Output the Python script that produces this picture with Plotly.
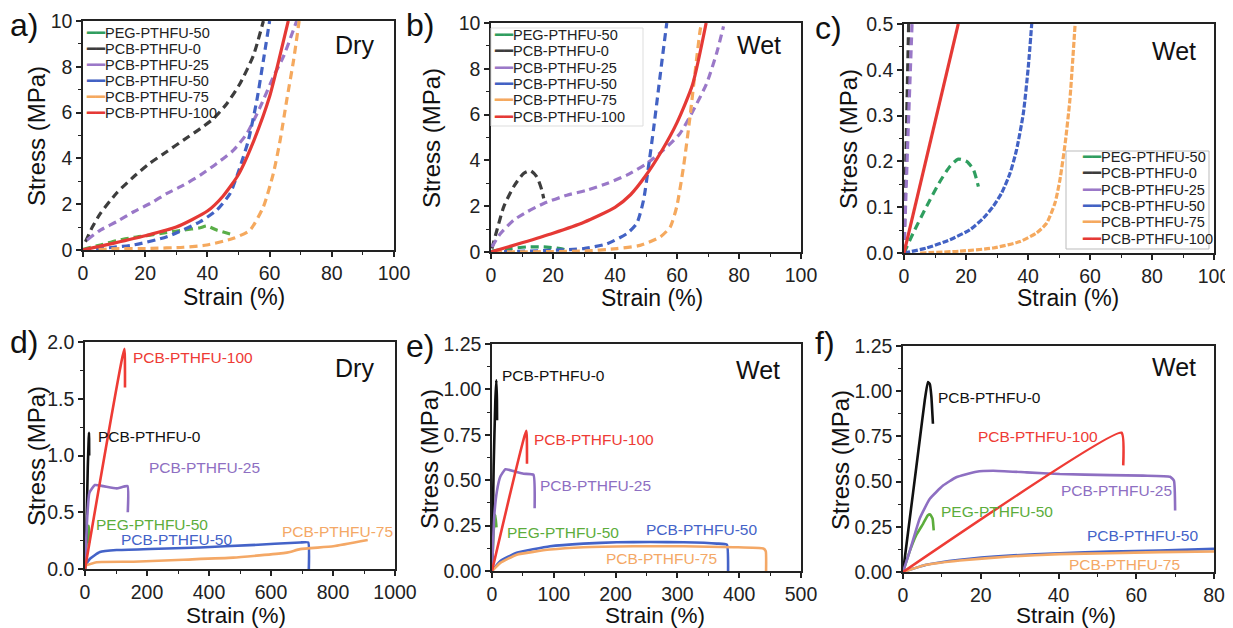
import plotly.graph_objects as go

# ---------------- shared labels ----------------
SERIES_NAMES = ["PEG-PTHFU-50", "PCB-PTHFU-0", "PCB-PTHFU-25",
                "PCB-PTHFU-50", "PCB-PTHFU-75", "PCB-PTHFU-100"]
X_TITLE = "Strain (%)"
Y_TITLE = "Stress (MPa)"

# ---------------- panel a (dry, small strain) ----------------
A_PEG50_X = [0, 5.6, 10.9, 16.3, 21.6, 27, 32.3, 37.7, 39.8, 43, 47.3]
A_PEG50_Y = [0.03, 0.22, 0.41, 0.55, 0.65, 0.77, 0.87, 0.97, 1.05, 0.87, 0.7]
A_PCB0_X = [0.8, 3, 5.6, 10.9, 16.3, 21.6, 27, 32.3, 37.7, 42, 46.3, 50.5, 54.8, 58]
A_PCB0_Y = [0.36, 1.0, 1.6, 2.5, 3.2, 3.8, 4.3, 4.8, 5.3, 5.74, 6.4, 7.27, 8.5, 10]
A_PCB25_X = [1.3, 5.6, 10.9, 16.3, 21.6, 27, 32.3, 37.7, 43, 48.4, 52.7, 57, 61.2, 64.4, 68.7]
A_PCB25_Y = [0.44, 0.87, 1.24, 1.67, 2.03, 2.47, 2.83, 3.27, 3.78, 4.36, 5.09, 6.25, 7.56, 8.43, 10]
A_PCB50_X = [0, 16.3, 27, 37.7, 43, 47.3, 50.5, 53.2, 55.9, 58, 60]
A_PCB50_Y = [0, 0.22, 0.58, 1.24, 1.74, 2.47, 3.63, 4.8, 6.54, 8.28, 10]
A_PCB75_X = [5, 8.8, 21.6, 32.3, 39.8, 48.4, 53.7, 58, 61.2, 63.4, 65.5, 67.7, 69.5]
A_PCB75_Y = [0.02, 0.05, 0.07, 0.12, 0.22, 0.51, 0.87, 1.89, 3.34, 4.8, 6.54, 8.28, 10]
A_PCB100_X = [0, 10, 20, 30, 40, 45, 50, 55, 60, 63, 66]
A_PCB100_Y = [0, 0.3, 0.62, 1.0, 1.7, 2.35, 3.3, 4.8, 6.7, 8.3, 10]

# ---------------- panel b (wet, small strain) ----------------
B_PEG50_X = [0.3, 6.2, 11.6, 17, 22.3, 24]
B_PEG50_Y = [0.04, 0.15, 0.22, 0.22, 0.15, 0.1]
B_PCB0_X = [0.3, 1.9, 4.1, 7.3, 10.5, 12.7, 14.8, 16.4, 17]
B_PCB0_Y = [0.15, 0.95, 1.97, 2.85, 3.43, 3.55, 3.28, 2.7, 2.34]
B_PCB25_X = [0.3, 3, 7.3, 11.6, 17, 24.5, 30.9, 37.4, 43.8, 50.3, 55.6, 61, 65.3, 69.6, 72.8, 75]
B_PCB25_Y = [0.22, 0.8, 1.39, 1.75, 2.12, 2.48, 2.7, 2.99, 3.36, 3.87, 4.45, 5.18, 6.2, 7.37, 8.69, 9.85]
B_PCB50_X = [0, 19, 29.9, 37.4, 43.8, 47, 49.2, 50.8, 52.4, 54, 55.6, 56.7]
B_PCB50_Y = [0, 0.07, 0.15, 0.36, 0.8, 1.24, 2.26, 3.72, 5.33, 7.08, 8.83, 10]
B_PCB75_X = [0.9, 29.9, 40.6, 48.1, 54.6, 57.8, 59.9, 62.1, 64.2, 65.8, 67.5, 68]
B_PCB75_Y = [0, 0.04, 0.15, 0.29, 0.66, 1.09, 1.97, 3.72, 5.91, 7.81, 9.71, 10]
B_PCB100_X = [0, 10, 20, 30, 40, 45, 50, 55, 60, 65, 69.4]
B_PCB100_Y = [0, 0.4, 0.82, 1.3, 1.95, 2.5, 3.35, 4.4, 5.65, 7.3, 10]

# ---------------- panel c (wet, zoomed stress) ----------------
C_PEG50_X = [0, 3, 7.3, 11.6, 14.8, 17.5, 20.2, 22.4, 24]
C_PEG50_Y = [0, 0.044, 0.102, 0.156, 0.189, 0.205, 0.2, 0.182, 0.145]
C_PCB0_X = [0, 0.7, 1.5]
C_PCB0_Y = [0, 0.24, 0.5]
C_PCB25_X = [0, 1.2, 2.6]
C_PCB25_Y = [0, 0.24, 0.5]
C_PCB50_X = [0, 7.3, 14.8, 21.3, 25.6, 28.8, 31.5, 34.2, 36.3, 38.5, 40.1, 41.2]
C_PCB50_Y = [0, 0.011, 0.029, 0.051, 0.076, 0.102, 0.131, 0.174, 0.225, 0.305, 0.407, 0.5]
C_PCB75_X = [5.2, 18, 28.8, 37.4, 42.8, 46, 48.7, 50.3, 52, 53.5, 55.2]
C_PCB75_Y = [0, 0.004, 0.011, 0.025, 0.044, 0.065, 0.109, 0.16, 0.24, 0.334, 0.5]
C_PCB100_X = [0, 17.5]
C_PCB100_Y = [0, 0.5]

# ---------------- panel d (dry, full curves) ----------------
D_PEG50_X = [0, 7.5, 12, 13]
D_PEG50_Y = [0, 0.32, 0.38, 0.23]
D_PCB0_X = [0, 5, 9, 12, 13, 13.5]
D_PCB0_Y = [0, 0.4, 0.9, 1.15, 1.2, 1.0]
D_PCB25_X = [0, 7.5, 14, 32, 59, 102, 137, 138]
D_PCB25_Y = [0, 0.47, 0.67, 0.74, 0.73, 0.71, 0.73, 0.5]
D_PCB50_X = [0, 16, 48, 102, 210, 371, 532, 694, 720, 722]
D_PCB50_Y = [0.03, 0.09, 0.15, 0.167, 0.176, 0.19, 0.21, 0.234, 0.234, 0]
D_PCB75_X = [0, 38, 156, 317, 478, 640, 661, 694, 801, 912]
D_PCB75_Y = [0.03, 0.06, 0.064, 0.082, 0.1, 0.14, 0.15, 0.175, 0.2, 0.255]
D_PCB100_X = [0, 127, 129]
D_PCB100_Y = [0, 1.94, 1.6]

# ---------------- panel e (wet, full curves) ----------------
E_PEG50_X = [0, 2.7, 5.4, 7, 7.2]
E_PEG50_Y = [0, 0.22, 0.31, 0.25, 0.24]
E_PCB0_X = [0, 2.7, 5.4, 7, 8, 8.2]
E_PCB0_Y = [0, 0.58, 0.94, 1.05, 0.94, 0.83]
E_PCB25_X = [0, 3.8, 8, 13.5, 21.6, 35, 51, 67, 69]
E_PCB25_Y = [0, 0.31, 0.44, 0.52, 0.56, 0.55, 0.536, 0.53, 0.345]
E_PCB50_X = [0, 13.5, 40, 94, 148, 202, 256, 310, 364, 380, 382]
E_PCB50_Y = [0, 0.055, 0.1, 0.136, 0.151, 0.158, 0.16, 0.158, 0.151, 0.145, 0]
E_PCB75_X = [0, 13.5, 40, 94, 148, 229, 310, 391, 439, 443, 443.5]
E_PCB75_Y = [0, 0.045, 0.09, 0.118, 0.131, 0.136, 0.136, 0.131, 0.124, 0.109, 0]
E_PCB100_X = [0, 55.5, 56.6]
E_PCB100_Y = [0, 0.772, 0.59]

# ---------------- panel f (wet, small-strain detail) ----------------
F_PEG50_X = [0, 1.7, 3.4, 5.2, 6.4, 7, 7.6, 7.9]
F_PEG50_Y = [0, 0.113, 0.204, 0.268, 0.314, 0.318, 0.296, 0.23]
F_PCB0_X = [0, 1.3, 2.6, 4.3, 5.6, 6.4, 6.9, 7.3, 7.7]
F_PCB0_Y = [0, 0.22, 0.44, 0.73, 0.95, 1.05, 1.04, 0.97, 0.82]
F_PCB25_X = [0, 1.7, 4.3, 6.9, 10.3, 13.7, 18.9, 23.2, 31.8, 40.3, 53.2, 61.8, 68.7, 69.7, 70]
F_PCB25_Y = [0, 0.113, 0.296, 0.405, 0.478, 0.524, 0.555, 0.56, 0.551, 0.542, 0.536, 0.533, 0.527, 0.505, 0.34]
F_PCB50_X = [0, 6, 14.6, 27.5, 40.3, 53.2, 66, 80]
F_PCB50_Y = [0, 0.04, 0.068, 0.091, 0.104, 0.113, 0.119, 0.128]
F_PCB75_X = [0, 6, 14.6, 27.5, 40.3, 53.2, 66, 80]
F_PCB75_Y = [0, 0.04, 0.064, 0.086, 0.099, 0.104, 0.11, 0.113]
F_PCB100_X = [0, 56.2, 56.65]
F_PCB100_Y = [0, 0.77, 0.59]

# ---------------- styling ----------------
FONT = "Liberation Sans, Arial, sans-serif"
TOP_COLORS = ["#2f9e5f", "#3d3d3d", "#9a78c8", "#4262c4", "#f5a95e", "#e53935"]
TOP_COLORS_A = ["#5aae48", "#3d3d3d", "#9a78c8", "#4262c4", "#f5a95e", "#e53935"]
BOT_COLORS = ["#5cad3c", "#111111", "#8e6fc2", "#4463c8", "#f4a866", "#ee3b35"]
AX_COLOR = "#222222"

# the page body has an 8px margin: the figure is drawn from (8, 8) of the window
OFF = 8
W, H = 1225, 620

def px2x(px):
    return (px - OFF) / W

def px2y(py):
    return 1 - (py - OFF) / H

fig = go.Figure()

panels = {
    "a": ("x", "y", [(A_PEG50_X, A_PEG50_Y), (A_PCB0_X, A_PCB0_Y), (A_PCB25_X, A_PCB25_Y),
                     (A_PCB50_X, A_PCB50_Y), (A_PCB75_X, A_PCB75_Y), (A_PCB100_X, A_PCB100_Y)]),
    "b": ("x2", "y2", [(B_PEG50_X, B_PEG50_Y), (B_PCB0_X, B_PCB0_Y), (B_PCB25_X, B_PCB25_Y),
                       (B_PCB50_X, B_PCB50_Y), (B_PCB75_X, B_PCB75_Y), (B_PCB100_X, B_PCB100_Y)]),
    "c": ("x3", "y3", [(C_PEG50_X, C_PEG50_Y), (C_PCB0_X, C_PCB0_Y), (C_PCB25_X, C_PCB25_Y),
                       (C_PCB50_X, C_PCB50_Y), (C_PCB75_X, C_PCB75_Y), (C_PCB100_X, C_PCB100_Y)]),
    "d": ("x4", "y4", [(D_PEG50_X, D_PEG50_Y), (D_PCB0_X, D_PCB0_Y), (D_PCB25_X, D_PCB25_Y),
                       (D_PCB50_X, D_PCB50_Y), (D_PCB75_X, D_PCB75_Y), (D_PCB100_X, D_PCB100_Y)]),
    "e": ("x5", "y5", [(E_PEG50_X, E_PEG50_Y), (E_PCB0_X, E_PCB0_Y), (E_PCB25_X, E_PCB25_Y),
                       (E_PCB50_X, E_PCB50_Y), (E_PCB75_X, E_PCB75_Y), (E_PCB100_X, E_PCB100_Y)]),
    "f": ("x6", "y6", [(F_PEG50_X, F_PEG50_Y), (F_PCB0_X, F_PCB0_Y), (F_PCB25_X, F_PCB25_Y),
                       (F_PCB50_X, F_PCB50_Y), (F_PCB75_X, F_PCB75_Y), (F_PCB100_X, F_PCB100_Y)]),
}

for key, (xa, ya, series) in panels.items():
    for i, (xs, ys) in enumerate(series):
        if key in "abc":
            colors = TOP_COLORS_A if key == "a" else TOP_COLORS
            if i == 5:
                dash = "solid"
            elif key == "c" and i in (3, 4):
                dash = "6px,2px"
            else:
                dash = "8px,5px"
            line = dict(color=colors[i], width=3.2, dash=dash, shape="spline", smoothing=0.6)
        else:
            line = dict(color=BOT_COLORS[i], width=2.6, shape="spline", smoothing=0.4)
        fig.add_trace(go.Scatter(x=xs, y=ys, mode="lines", line=line,
                                 name=SERIES_NAMES[i], showlegend=False,
                                 xaxis=xa, yaxis=ya, hoverinfo="skip"))

# ---------------- axes ----------------
def axis_style(rng, dtick, fmt=None, domain=None, anchor=None):
    d = dict(range=rng, dtick=dtick, tick0=0, domain=domain, anchor=anchor, automargin=False,
             showgrid=False, zeroline=False, showline=True, linecolor=AX_COLOR,
             linewidth=1.5, mirror=True, ticks="outside", ticklen=5, tickwidth=1.5,
             tickcolor=AX_COLOR, tickfont=dict(family=FONT, size=19.5, color=AX_COLOR),
             minor=dict(ticks="outside", ticklen=3, tickwidth=1.2, tickcolor=AX_COLOR,
                        dtick=dtick / 2))
    if fmt:
        d["tickformat"] = fmt
    return d

def mirror_style(rng, dtick, overlay, anchor, side):
    # inward ticks on the top / right frame edges
    return dict(range=rng, dtick=dtick, tick0=0, overlaying=overlay, anchor=anchor, side=side,
                automargin=False, showgrid=False, zeroline=False, showline=False,
                showticklabels=False, ticks="inside", ticklen=5, tickwidth=1.5,
                tickcolor=AX_COLOR,
                minor=dict(ticks="inside", ticklen=3, tickwidth=1.2, tickcolor=AX_COLOR,
                           dtick=dtick / 2))

def xd(p0, p1):
    return [px2x(p0), px2x(p1)]

def yd(p_top, p_bot):
    return [px2y(p_bot), px2y(p_top)]

PANEL_AXES = [
    # x range, x dtick, y range, y dtick, y format, x pixels, y pixels
    ([0, 100], 20, [0, 10], 2, None, (83, 394), (21, 250)),
    ([0, 100], 20, [0, 10], 2, None, (491, 801), (23, 252)),
    ([0, 100], 20, [0, 0.5], 0.1, ".1f", (904, 1214), (24, 253)),
    ([0, 1000], 200, [0, 2], 0.5, ".1f", (85, 395), (342, 569)),
    ([0, 500], 100, [0, 1.25], 0.25, ".2f", (492, 801), (344, 571)),
    ([0, 80], 20, [0, 1.25], 0.25, ".2f", (903, 1214), (346, 572)),
]

layout_axes = {}
for k, (xr, xdt, yr, ydt, yfmt, xp, yp) in enumerate(PANEL_AXES):
    n = k + 1
    sx = "" if n == 1 else str(n)
    xid, yid = "x" + sx, "y" + sx
    layout_axes["xaxis" + sx] = axis_style(xr, xdt, domain=xd(*xp), anchor=yid)
    layout_axes["yaxis" + sx] = axis_style(yr, ydt, yfmt, domain=yd(*yp), anchor=xid)
    m = n + 6
    layout_axes[f"xaxis{m}"] = mirror_style(xr, xdt, xid, yid, "top")
    layout_axes[f"yaxis{m}"] = mirror_style(yr, ydt, yid, xid, "right")

annotations = []
shapes = []

def paper_text(txt, px, py, size, color="#111", xanchor="center", angle=0):
    return dict(text=txt, xref="paper", yref="paper", x=px2x(px), y=px2y(py),
                xanchor=xanchor, yanchor="middle", showarrow=False, textangle=angle,
                font=dict(family=FONT, size=size, color=color))

# axis titles
for px, py, fs in [(234, 297, 23), (652, 298, 23), (1068, 298, 23),
                   (236, 615, 22.5), (655, 615, 22.5), (1066, 615, 22.5)]:
    annotations.append(paper_text(X_TITLE, px, py, fs))
for px, py in [(37, 136), (431, 138), (848, 139), (36, 456), (429, 459), (840, 460)]:
    annotations.append(paper_text(Y_TITLE, px, py, 24, angle=-90))

# panel letters
for txt, px, py in [("a)", 8, 25), ("b)", 404, 25), ("c)", 813, 28),
                    ("d)", 8, 342), ("e)", 404, 346), ("f)", 813, 343)]:
    annotations.append(paper_text(txt, px, py, 32, xanchor="left"))

# condition labels
for txt, xr, yr, dx, dy in [("Dry", "x", "y", 0.942, 0.895), ("Wet", "x2", "y2", 0.942, 0.905),
                            ("Wet", "x3", "y3", 0.948, 0.88), ("Dry", "x4", "y4", 0.94, 0.885),
                            ("Wet", "x5", "y5", 0.94, 0.885), ("Wet", "x6", "y6", 0.949, 0.905)]:
    annotations.append(dict(text=txt, xref=xr + " domain", yref=yr + " domain", x=dx, y=dy,
                            xanchor="right", yanchor="middle", showarrow=False,
                            font=dict(family=FONT, size=25, color="#111")))

# legends for panels a, b, c (one text row per series)
for x0, y0, step in [(84, 33, 16), (492, 35, 16.3), (1080, 157, 16.3)]:
    for i, name in enumerate(SERIES_NAMES):
        annotations.append(paper_text(
            f"<span style='color:{TOP_COLORS[i]}'>━━</span>{name}",
            x0, y0 + step * i, 14.5, color="#222", xanchor="left"))

shapes.append(dict(type="rect", xref="paper", yref="paper", x0=px2x(491), x1=px2x(643),
                   y0=px2y(126), y1=px2y(28), line=dict(color="#dddddd", width=1)))
shapes.append(dict(type="rect", xref="paper", yref="paper", x0=px2x(1066), x1=px2x(1209),
                   y0=px2y(249), y1=px2y(151), line=dict(color="#bbbbbb", width=1)))

# in-plot curve labels (panels d, e, f)
LABELS_D = [("PCB-PTHFU-100", 148, 1.86, 5), ("PCB-PTHFU-0", 35, 1.17, 1),
            ("PCB-PTHFU-25", 200, 0.89, 2), ("PEG-PTHFU-50", 29, 0.39, 0),
            ("PCB-PTHFU-50", 110, 0.26, 3), ("PCB-PTHFU-75", 629, 0.33, 4)]
LABELS_E = [("PCB-PTHFU-0", 13, 1.075, 1), ("PCB-PTHFU-100", 65, 0.726, 5),
            ("PCB-PTHFU-25", 74, 0.47, 2), ("PEG-PTHFU-50", 21, 0.21, 0),
            ("PCB-PTHFU-50", 246, 0.23, 3), ("PCB-PTHFU-75", 181, 0.07, 4)]
LABELS_F = [("PCB-PTHFU-0", 8.5, 0.965, 1), ("PCB-PTHFU-100", 18.8, 0.75, 5),
            ("PCB-PTHFU-25", 40.1, 0.45, 2), ("PEG-PTHFU-50", 9.3, 0.334, 0),
            ("PCB-PTHFU-50", 46.8, 0.20, 3), ("PCB-PTHFU-75", 42.2, 0.04, 4)]

for labels, xr, yr in [(LABELS_D, "x4", "y4"), (LABELS_E, "x5", "y5"), (LABELS_F, "x6", "y6")]:
    for txt, lx, ly, ci in labels:
        annotations.append(dict(text=txt, xref=xr, yref=yr, x=lx, y=ly, xanchor="left",
                                yanchor="middle", showarrow=False,
                                font=dict(family=FONT, size=15.5, color=BOT_COLORS[ci])))

fig.update_layout(
    width=W, height=H, margin=dict(l=0, r=0, t=0, b=0, autoexpand=False),
    paper_bgcolor="white", plot_bgcolor="white", showlegend=False,
    annotations=annotations, shapes=shapes, **layout_axes,
)

fig.write_html("out.html")
